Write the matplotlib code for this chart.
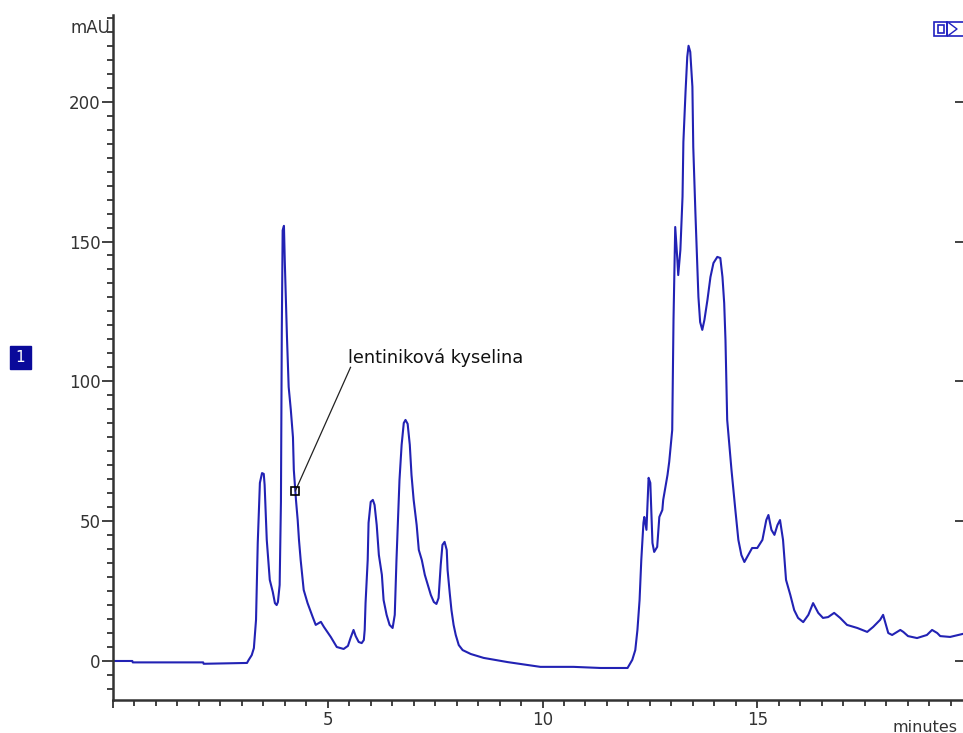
import matplotlib.pyplot as plt
import matplotlib.patches as mpatches
import numpy as np

# chromatogram trace (minutes, mAU)
time_min = [0.0, 0.45, 0.46, 2.1, 2.11, 3.12, 3.16, 3.23, 3.28, 3.33, 3.37, 3.42, 3.47, 3.51,
            3.53, 3.58, 3.65, 3.72, 3.77, 3.81, 3.84, 3.88, 3.91, 3.93, 3.95, 3.98, 4.0,
            4.05, 4.09, 4.14, 4.19, 4.21, 4.26, 4.30, 4.33, 4.37, 4.44, 4.53, 4.65, 4.72,
            4.84, 4.91, 5.07, 5.21, 5.37, 5.47, 5.53, 5.60, 5.65, 5.72, 5.79, 5.84, 5.86,
            5.88, 5.93, 5.95, 6.0, 6.05, 6.09, 6.14, 6.19, 6.26, 6.30, 6.37, 6.44, 6.51,
            6.56, 6.60, 6.67, 6.72, 6.77, 6.81, 6.86, 6.91, 6.95, 7.0, 7.07, 7.12, 7.19,
            7.26, 7.33, 7.40, 7.47, 7.53, 7.58, 7.63, 7.67, 7.72, 7.77, 7.79, 7.84, 7.88,
            7.93, 7.98, 8.05, 8.14, 8.33, 8.63, 9.19, 9.95, 10.72, 11.35, 11.98, 12.09,
            12.16, 12.21, 12.26, 12.30, 12.35, 12.37, 12.42, 12.47, 12.51, 12.56, 12.60,
            12.67, 12.72, 12.79, 12.81, 12.91, 12.95, 13.02, 13.05, 13.09, 13.14, 13.16,
            13.21, 13.26, 13.28, 13.33, 13.37, 13.40, 13.44, 13.49, 13.51, 13.56, 13.60,
            13.63, 13.67, 13.72, 13.77, 13.84, 13.91, 13.98, 14.07, 14.14, 14.19, 14.23,
            14.26, 14.30, 14.40, 14.49, 14.56, 14.63, 14.70, 14.79, 14.88, 15.0, 15.12,
            15.21, 15.26, 15.33, 15.40, 15.47, 15.53, 15.60, 15.67, 15.77, 15.86, 15.95,
            16.07, 16.19, 16.30, 16.42, 16.53, 16.65, 16.79, 16.93, 17.09, 17.33, 17.56,
            17.70, 17.86, 17.93, 18.05, 18.14, 18.33, 18.40, 18.51, 18.72, 18.95, 19.07,
            19.19, 19.26, 19.49, 19.79, 19.9]
absorbance = [0.0, 0.0, -0.5, -0.5, -1.0, -0.7, 0.4, 2.1, 4.6, 14.7, 42.2, 63.7, 67.2, 66.9,
              63.0, 43.3, 29.0, 24.7, 20.7, 20.0, 21.1, 27.2, 56.9, 117.7, 154.0, 155.6, 142.7,
              116.0, 98.0, 89.8, 80.0, 68.3, 57.6, 50.4, 43.3, 36.0, 25.4, 20.7, 15.7, 12.9,
              14.0, 12.2, 8.6, 5.0, 4.3, 5.4, 8.2, 11.1, 8.9, 6.8, 6.4, 7.5, 11.1,
              20.7, 36.1, 49.4, 56.9, 57.6, 55.8, 48.6, 37.9, 30.8, 21.8, 16.5, 12.9, 11.8,
              16.5, 36.1, 64.7, 77.3, 85.1, 86.2, 84.8, 77.3, 66.5, 57.6, 48.6, 39.7, 36.1,
              30.8, 27.2, 23.6, 21.1, 20.4, 22.5, 34.3, 41.5, 42.6, 39.7, 32.5, 24.3, 18.2,
              12.9, 9.3, 5.7, 3.9, 2.5, 1.1, -0.4, -2.1, -2.1, -2.5, -2.5, 0.4,
              3.9, 11.1, 21.8, 36.1, 49.4, 51.5, 46.9, 65.5, 63.7, 42.2, 39.0,
              40.8, 51.5, 54.0, 57.6, 66.5, 71.2, 82.6, 122.0, 155.2, 143.4, 138.0,
              147.0, 166.0, 185.6, 203.5, 216.0, 220.0, 217.8, 205.3, 183.8, 160.2, 143.4,
              130.2, 121.2, 118.4, 122.0, 129.1, 137.3, 142.3, 144.5, 144.1, 137.3, 128.0,
              114.8, 86.2, 68.3, 54.0, 43.3, 37.9, 35.4, 37.9, 40.4, 40.4, 43.3,
              50.4, 52.2, 46.9, 45.1, 48.6, 50.4, 43.3, 29.0, 23.6, 18.2, 15.4,
              13.9, 16.5, 20.7, 17.2, 15.4, 15.7, 17.2, 15.4, 12.9, 11.8, 10.4,
              12.2, 14.7, 16.5, 10.0, 9.3, 11.1, 10.4, 8.9, 8.2, 9.3, 11.1,
              10.0, 8.9, 8.6, 9.7, 9.9]

peak_time = 4.245
peak_name = "lentiniková kyselina"
label_pos = (5.47, 106.5)

x_major = [0, 5, 10, 15]
x_labels = ["", "5", "10", "15"]
y_major = [0, 50, 100, 150, 200]

fig = plt.figure(figsize=(9.63, 7.33), dpi=100)
ax = fig.add_axes([113 / 963, 33 / 733, 853 / 963, 685 / 733])

ax.plot(time_min, absorbance, color="#2222b4", lw=1.5)

# peak marker + label
peak_val = np.interp(peak_time, time_min, absorbance)
ax.plot([peak_time, label_pos[0] + 0.06], [peak_val, label_pos[1] - 1.5], color="#222222", lw=0.9)
ax.plot(peak_time, peak_val, marker="s", ms=6, mfc="none", mec="black", mew=1.2)
ax.text(label_pos[0], label_pos[1], peak_name, fontsize=12.8, ha="left", va="baseline",
        color="#111111")

ax.set_xlim(0, 19.86)
ax.set_ylim(-13.95, 231)

ax.set_xticks(x_major)
ax.set_xticklabels(x_labels)
ax.set_xticks(np.arange(0, 20, 0.5), minor=True)
ax.set_yticks(y_major)
ax.set_yticks(np.arange(-10, 231, 5), minor=True)

ax.spines["top"].set_visible(False)
for s in ["left", "bottom", "right"]:
    ax.spines[s].set_color("#333333")
    ax.spines[s].set_linewidth(1.8)

ax.tick_params(axis="y", which="major", direction="out", length=8, width=1.3,
               labelsize=12, pad=1, colors="#333333", right=True)
ax.tick_params(axis="y", which="minor", direction="out", length=4.5, width=1.3,
               colors="#333333", right=False)
ax.tick_params(axis="x", which="major", direction="out", length=6, width=1.3,
               labelsize=12, pad=2, colors="#333333")
ax.tick_params(axis="x", which="minor", direction="out", length=4, width=1.3,
               colors="#333333")
for t in ax.yaxis.get_major_ticks():
    t.tick2line.set_markersize(8)
    t.tick2line.set_marker(0)  # pointing left, inside the axes

fig.text(110 / 963, 1 - 28 / 733, "mAU", fontsize=12, ha="right", va="center", color="#333333")
fig.text(892 / 963, 1 - 727 / 733, "minutes", fontsize=11.5, ha="left", va="center", color="#333333")

# channel number box
fig.patches.append(mpatches.Rectangle((10 / 963, 1 - 369 / 733), 21 / 963, 23 / 733,
                                      transform=fig.transFigure, color="#0a0a9a"))
fig.text(20.5 / 963, 1 - 357.5 / 733, "1", fontsize=11, color="white", ha="center", va="center")

# little window icons in the top right corner
fig.patches.append(mpatches.Rectangle((934 / 963, 1 - 36 / 733), 13 / 963, 14 / 733,
                                      transform=fig.transFigure, fill=False, ec="#2020c0", lw=1.2))
fig.patches.append(mpatches.Rectangle((937.5 / 963, 1 - 32.5 / 733), 6 / 963, 7 / 733,
                                      transform=fig.transFigure, fill=False, ec="#2020c0", lw=1.2))
fig.patches.append(mpatches.Rectangle((947 / 963, 1 - 36 / 733), 20 / 963, 14 / 733,
                                      transform=fig.transFigure, fill=False, ec="#2020c0", lw=1.2))
fig.lines.append(plt.Line2D([949 / 963, 957 / 963, 949 / 963],
                            [1 - 23 / 733, 1 - 29 / 733, 1 - 35 / 733],
                            transform=fig.transFigure, color="#2020c0", lw=1.0))

fig.savefig("out.png", dpi=100)
